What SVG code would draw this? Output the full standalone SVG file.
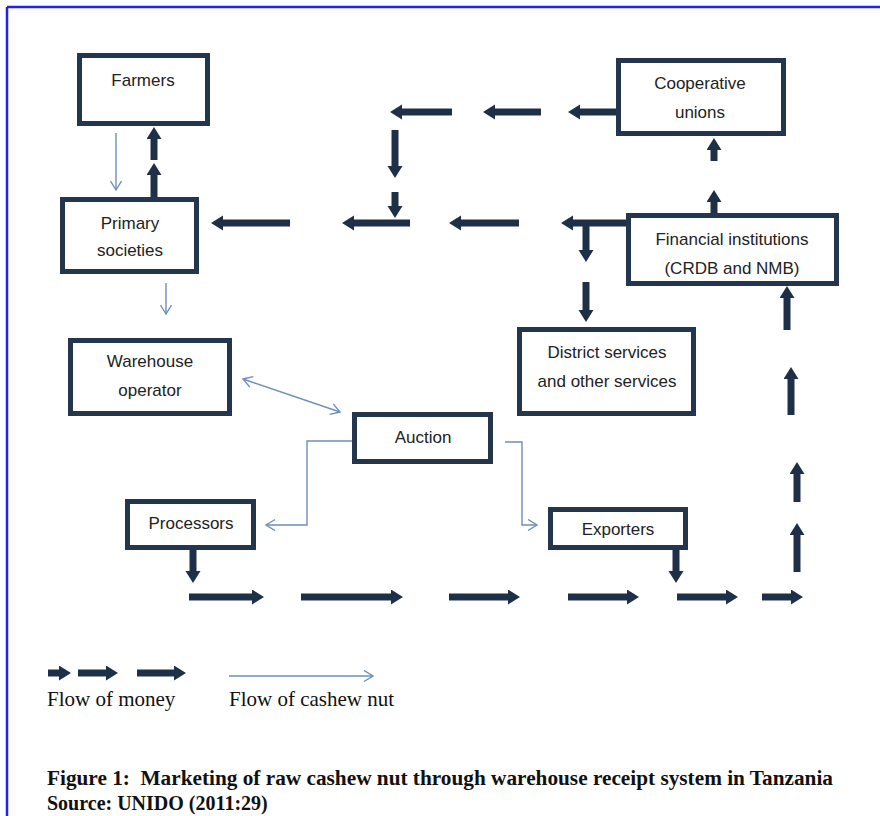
<svg xmlns="http://www.w3.org/2000/svg" width="880" height="816" viewBox="0 0 880 816">
<style>
.box{fill:#fff;stroke:#24364d;stroke-width:5}
.lbl{font-family:"Liberation Sans",Arial,sans-serif;font-size:17px;fill:#222;text-anchor:middle}
.money{stroke:#1e3048;stroke-width:7;fill:none;marker-end:url(#thick)}
.nut{stroke:#6d8fb8;stroke-width:1.4;fill:none;marker-end:url(#thin)}
.serif{font-family:"Liberation Serif","Times New Roman",serif;fill:#111}
</style>
<defs>
<marker id="thick" markerUnits="userSpaceOnUse" markerWidth="14" markerHeight="16" refX="3" refY="7.5" orient="auto">
<path d="M0,0 L12,7.5 L0,15 z" fill="#1e3048"/>
</marker>
<marker id="thin" markerUnits="userSpaceOnUse" markerWidth="12" markerHeight="14" refX="10" refY="6" orient="auto">
<path d="M1,0.5 L10,6 L1,11.5" fill="none" stroke="#6d8fb8" stroke-width="1.4"/>
</marker>
<marker id="thinStart" markerUnits="userSpaceOnUse" markerWidth="12" markerHeight="14" refX="1" refY="6" orient="auto">
<path d="M10,0.5 L1,6 L10,11.5" fill="none" stroke="#6d8fb8" stroke-width="1.4"/>
</marker>
</defs>
<rect width="880" height="816" fill="#fff"/>
<g id="frame" stroke="#2222ee" stroke-width="2.5">
<line x1="7" y1="7" x2="880" y2="7"/>
<line x1="7" y1="7" x2="7" y2="816"/>
</g>
<g id="connectors">
<line class="money" x1="154" y1="197" x2="154" y2="172"/>
<line class="money" x1="154" y1="160" x2="154" y2="136"/>
<line class="money" x1="626" y1="223" x2="570" y2="223"/>
<line class="money" x1="519" y1="223" x2="458" y2="223"/>
<line class="money" x1="410" y1="223" x2="351" y2="223"/>
<line class="money" x1="290" y1="223" x2="220" y2="223"/>
<line class="money" x1="586" y1="223" x2="586" y2="253"/>
<line class="money" x1="586" y1="282" x2="586" y2="313"/>
<line class="money" x1="616" y1="112" x2="577" y2="112"/>
<line class="money" x1="541" y1="112" x2="492" y2="112"/>
<line class="money" x1="452" y1="112" x2="399" y2="112"/>
<line class="money" x1="395" y1="130" x2="395" y2="169"/>
<line class="money" x1="395" y1="192" x2="395" y2="209"/>
<line class="money" x1="714" y1="213" x2="714" y2="199"/>
<line class="money" x1="714" y1="161" x2="714" y2="147"/>
<line class="money" x1="787" y1="330" x2="787" y2="295"/>
<line class="money" x1="791" y1="415" x2="791" y2="376"/>
<line class="money" x1="797" y1="502" x2="797" y2="471"/>
<line class="money" x1="797" y1="572" x2="797" y2="532"/>
<line class="money" x1="189" y1="597" x2="255" y2="597"/>
<line class="money" x1="301" y1="597" x2="394" y2="597"/>
<line class="money" x1="449" y1="597" x2="511" y2="597"/>
<line class="money" x1="568" y1="597" x2="630" y2="597"/>
<line class="money" x1="677" y1="597" x2="729" y2="597"/>
<line class="money" x1="762" y1="597" x2="794" y2="597"/>
<line class="money" x1="193" y1="550" x2="193" y2="574"/>
<line class="money" x1="676" y1="550" x2="676" y2="574"/>
<line class="nut" x1="116" y1="133" x2="116" y2="190"/>
<line class="nut" x1="166" y1="283" x2="166" y2="314"/>
<line class="nut" x1="243" y1="379" x2="340" y2="412" marker-start="url(#thinStart)"/>
<path class="nut" d="M352,441 H307 V525 H266" stroke="#8d9db2"/>
<path class="nut" d="M505,442 H522 V525 H537"/>
</g>
<g id="farmers"><rect class="box" x="79.5" y="55.5" width="128" height="68"/><text class="lbl" x="143" y="86">Farmers</text></g>
<g id="primary"><rect class="box" x="62.5" y="199.5" width="134" height="72"/><text class="lbl" x="130" y="229">Primary</text><text class="lbl" x="130" y="256">societies</text></g>
<g id="cooperative"><rect class="box" x="618.5" y="60.5" width="165" height="73"/><text class="lbl" x="700" y="89">Cooperative</text><text class="lbl" x="700" y="118">unions</text></g>
<g id="financial"><rect class="box" x="628.5" y="215.5" width="208" height="68"/><text class="lbl" x="732" y="245">Financial institutions</text><text class="lbl" x="732" y="274">(CRDB and NMB)</text></g>
<g id="district"><rect class="box" x="519.5" y="329.5" width="174" height="84"/><text class="lbl" x="607" y="358">District services</text><text class="lbl" x="607" y="387">and other services</text></g>
<g id="warehouse"><rect class="box" x="70.5" y="340.5" width="159" height="73"/><text class="lbl" x="150" y="367">Warehouse</text><text class="lbl" x="150" y="396">operator</text></g>
<g id="auction"><rect class="box" x="354.5" y="414.5" width="136" height="47"/><text class="lbl" x="423" y="443">Auction</text></g>
<g id="processors"><rect class="box" x="127.5" y="501.5" width="126" height="46"/><text class="lbl" x="191" y="529">Processors</text></g>
<g id="exporters"><rect class="box" x="550.5" y="509.5" width="135" height="38" stroke-width="4.5"/><text class="lbl" x="618" y="535">Exporters</text></g>
<g id="legend">
<line class="money" x1="48" y1="673" x2="62" y2="673"/>
<line class="money" x1="78" y1="673" x2="109" y2="673"/>
<line class="money" x1="137" y1="673" x2="177" y2="673"/>
<line class="nut" x1="229" y1="676" x2="373" y2="676"/>
<text class="serif" x="47" y="706" font-size="21">Flow of money</text>
<text class="serif" x="229" y="706" font-size="21">Flow of cashew nut</text>
</g>
<g id="caption">
<text class="serif" x="47" y="785" font-size="20" font-weight="bold" textLength="786" lengthAdjust="spacingAndGlyphs" xml:space="preserve">Figure 1:  Marketing of raw cashew nut through warehouse receipt system in Tanzania</text>
<text class="serif" x="47" y="810" font-size="20" font-weight="bold">Source: UNIDO (2011:29)</text>
</g>
</svg>
